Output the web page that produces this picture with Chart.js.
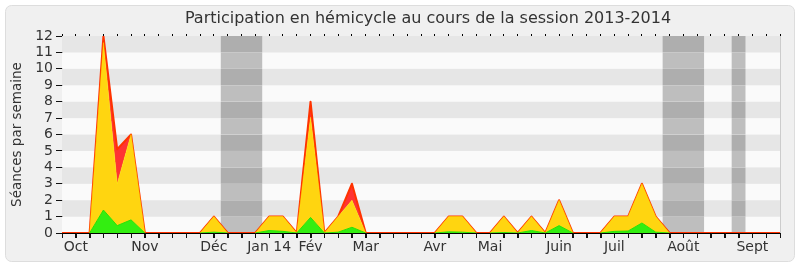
<!DOCTYPE html>
<html lang="fr">
<head>
<meta charset="utf-8">
<title>Participation en hémicycle 2013-2014</title>
<script src="https://cdn.jsdelivr.net/npm/chart.js@4/dist/chart.umd.min.js"></script>
<style>
    body { margin: 0; background: #ffffff; }
    #wrap { width: 800px; height: 267px; }
</style>
</head>
<body>
<div id="wrap"><canvas id="participation_chart" width="800" height="267"></canvas></div>
<script>
// Semaines de la session (une étiquette par semaine, vide sauf début de mois)
const weekLabels = [
    '', 'Oct', '', '', '', '', 'Nov', '', '', '', '',
    'Déc', '', '', '', 'Jan 14', '', '', 'Fév', '', '', '',
    'Mar', '', '', '', '', 'Avr', '', '', '', 'Mai', '', '', '', '',
    'Juin', '', '', '', 'Juil', '', '', '', '', 'Août', '', '', '', '',
    'Sept', '', ''
];

// Séances par semaine, par catégorie (empilées)
const greenValues = [
    0, 0, 0, 1.4, 0.45, 0.8, 0, 0, 0, 0, 0,
    0.05, 0, 0, 0, 0.15, 0.1, 0, 0.95, 0, 0.05, 0.35,
    0, 0, 0, 0, 0, 0, 0.07, 0.05, 0, 0, 0.03, 0, 0.15, 0,
    0.45, 0, 0, 0, 0.1, 0.12, 0.61, 0.05, 0, 0, 0, 0, 0, 0,
    0, 0, 0
];
const yellowValues = [
    0, 0, 0, 10.2, 2.55, 5.2, 0, 0, 0, 0, 0,
    0.95, 0, 0, 0, 0.85, 0.9, 0, 6.1, 0, 0.95, 1.65,
    0, 0, 0, 0, 0, 0, 0.93, 0.95, 0, 0, 0.97, 0, 0.85, 0,
    1.55, 0, 0, 0, 0.9, 0.88, 2.39, 0.95, 0, 0, 0, 0, 0, 0,
    0, 0, 0
];
const redValues = [
    0, 0, 0, 0.4, 2.1, 0, 0, 0, 0, 0, 0,
    0, 0, 0, 0, 0, 0, 0, 0.95, 0, 0, 1.0,
    0, 0, 0, 0, 0, 0, 0, 0, 0, 0, 0, 0, 0, 0,
    0, 0, 0, 0, 0, 0, 0, 0, 0, 0, 0, 0, 0, 0,
    0, 0, 0
];

// Vacances parlementaires (en semaines)
const vacationStart = [11.5, 43.5, 48.5];
const vacationEnd = [14.5, 46.5, 49.5];

const yTicks = [0, 1, 2, 3, 4, 5, 6, 7, 8, 9, 10, 11, 12];

const chartTitle = 'Participation en hémicycle au cours de la session 2013-2014';

document.addEventListener('DOMContentLoaded', function() {
    const ctx = document.getElementById('participation_chart').getContext('2d');
    const font = 'DejaVu Sans';

    // pas de trait vert/jaune sur la ligne de base
    const hideFlat = c => (c.p0.parsed.y === 0 && c.p1.parsed.y === 0) ? 'rgba(0,0,0,0)' : undefined;

    // Cadre arrondi + titre
    const framePlugin = {
        id: 'frame',
        beforeDraw(chart) {
            const c = chart.ctx;
            c.save();
            c.fillStyle = '#f0f0f0';
            c.strokeStyle = '#dddddd';
            c.lineWidth = 1;
            c.beginPath();
            c.roundRect(5.5, 5.5, 789, 256, 6);
            c.fill();
            c.stroke();
            c.restore();
        },
        afterDraw(chart) {
            const c = chart.ctx;
            const x = chart.scales.x;
            const area = chart.chartArea;
            c.save();
            // graduations hebdomadaires sous l'axe
            c.strokeStyle = '#111111';
            c.lineWidth = 1;
            c.beginPath();
            x.ticks.forEach((t, i) => {
                const px = Math.round(x.getPixelForTick(i)) + 0.5;
                c.moveTo(px, area.bottom);
                c.lineTo(px, area.bottom + 5);
            });
            c.stroke();
            c.fillStyle = '#333333';
            c.font = '16px ' + font;
            c.textAlign = 'center';
            c.textBaseline = 'middle';
            c.fillText(chartTitle, 428, 19);
            c.restore();
        }
    };

    // Bandes horizontales et périodes de vacances
    const bandsPlugin = {
        id: 'bands',
        beforeDatasetsDraw(chart) {
            const c = chart.ctx;
            const area = chart.chartArea;
            const x = chart.scales.x;
            const y = chart.scales.y;
            c.save();
            for (let i = 0; i < yTicks.length - 1; i++) {
                const top = y.getPixelForValue(yTicks[i + 1]);
                const bottom = y.getPixelForValue(yTicks[i]);
                const dark = i % 2 === 1;
                c.fillStyle = dark ? '#e6e6e6' : '#fafafa';
                c.fillRect(area.left, top, area.right - area.left, bottom - top);
                c.fillStyle = dark ? '#aeaeae' : '#bebebe';
                vacationStart.forEach((s, j) => {
                    const x0 = x.getPixelForValue(s);
                    const x1 = x.getPixelForValue(vacationEnd[j]);
                    c.fillRect(x0, top, x1 - x0, bottom - top);
                });
            }
            // bord droit
            c.strokeStyle = '#cccccc';
            c.beginPath();
            c.moveTo(area.right + 0.5, area.top);
            c.lineTo(area.right + 0.5, area.bottom);
            c.stroke();
            c.restore();
        }
    };

    new Chart(ctx, {
        type: 'line',
        data: {
            labels: weekLabels,
            datasets: [{
                label: 'vert',
                data: greenValues,
                backgroundColor: '#33ee11',
                borderColor: '#2ee000',
                borderWidth: 1,
                segment: { borderColor: hideFlat },
                fill: 'origin'
            }, {
                label: 'jaune',
                data: yellowValues,
                backgroundColor: '#ffd510',
                borderColor: 'rgba(255, 235, 0, 0.45)',
                borderWidth: 1,
                segment: { borderColor: hideFlat },
                fill: '-1'
            }, {
                label: 'rouge',
                data: redValues,
                backgroundColor: '#ff3333',
                borderColor: '#ff3300',
                borderWidth: 2,
                fill: '-1'
            }]
        },
        options: {
            responsive: false,
            animation: false,
            layout: {
                padding: { left: 5, right: 20, top: 34, bottom: 0 }
            },
            elements: {
                point: { radius: 0 },
                line: { tension: 0, borderJoinStyle: 'round' }
            },
            plugins: {
                legend: { display: false },
                tooltip: { enabled: false }
            },
            scales: {
                x: {
                    type: 'category',
                    grid: {
                        drawOnChartArea: false,
                        tickLength: 5,
                        tickColor: '#111111'
                    },
                    border: { color: '#000000' },
                    ticks: {
                        autoSkip: false,
                        maxRotation: 0,
                        padding: 1,
                        color: '#333333',
                        font: { family: font, size: 14 }
                    },
                    afterFit(scale) { scale.height = 34; }
                },
                x2: {
                    type: 'category',
                    position: 'top',
                    grid: {
                        drawOnChartArea: false,
                        tickLength: 2,
                        tickColor: '#000000'
                    },
                    border: { display: false },
                    ticks: { display: false, autoSkip: false },
                    afterFit(scale) { scale.height = 2; }
                },
                y: {
                    stacked: true,
                    min: 0,
                    max: 12,
                    grid: {
                        drawOnChartArea: false,
                        tickLength: 6,
                        tickColor: '#111111'
                    },
                    border: { color: '#000000' },
                    afterBuildTicks(scale) {
                        scale.ticks = yTicks.map(v => ({ value: v }));
                    },
                    ticks: {
                        autoSkip: false,
                        padding: 3,
                        color: '#333333',
                        font: { family: font, size: 14 }
                    },
                    title: {
                        display: true,
                        text: 'Séances par semaine',
                        color: '#333333',
                        font: { family: font, size: 13.5 }
                    },
                    afterFit(scale) { scale.width = 57; }
                }
            }
        },
        plugins: [framePlugin, bandsPlugin]
    });
});
</script>
</body>
</html>
